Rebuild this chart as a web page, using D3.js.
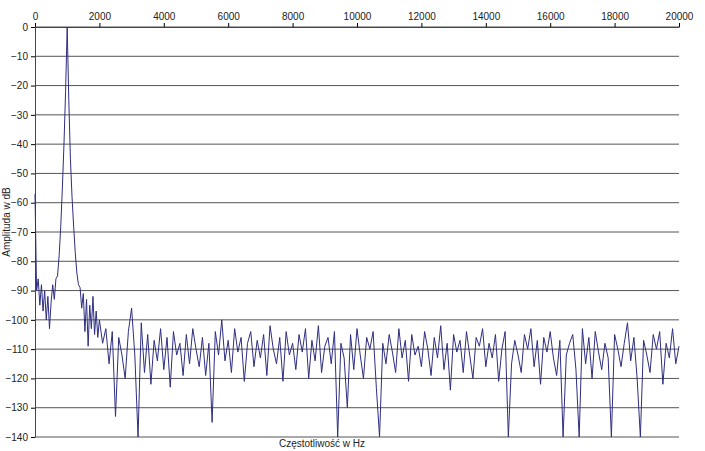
<!DOCTYPE html>
<html>
<head>
<meta charset="utf-8">
<style>
  body { margin: 0; background: white; font-family: "Liberation Sans", Arial, sans-serif; }
  .tick text { font-size: 10px; fill: #222; }
</style>
<script src="https://d3js.org/d3.v7.min.js"></script>
</head>
<body>
<svg id="chart" width="705" height="451"></svg>
<script>
  // Low-frequency part around the 1 kHz tone (50 Hz steps)
  const lowFreq = d3.range(0, 2001, 50);
  const lowAmp = [-57, -90, -86, -95, -88, -97, -90, -100, -92, -103, -94, -88, -93, -86, -85, -78,
    -68, -55, -40, -22, 0, -25, -45, -58, -68, -77, -84, -88, -89, -96, -91, -104, -93, -109,
    -95, -103, -92, -105, -97, -106, -100];
  // Noise floor 2100..20000 Hz (100 Hz steps)
  const noiseFreq = d3.range(2100, 20001, 100);
  const noiseAmp = [
    -108,-103,-115,-104,-133,-106,-112,-120,-104,-96,
    -112,-140,-101,-118,-105,-122,-107,-114,-103,-117,
    -106,-123,-104,-112,-108,-119,-105,-115,-103,-110,
    -116,-106,-119,-108,-135,-104,-112,-100,-114,-107,
    -118,-103,-111,-106,-121,-108,-104,-116,-107,-113,
    -105,-119,-102,-110,-115,-106,-121,-104,-112,-108,
    -117,-105,-111,-103,-120,-107,-114,-102,-118,-109,
    -106,-115,-104,-140,-108,-113,-130,-105,-117,-103,
    -112,-120,-106,-110,-104,-123,-140,-108,-115,-105,
    -111,-118,-103,-113,-107,-121,-105,-112,-109,-116,
    -104,-110,-119,-106,-113,-102,-117,-108,-124,-105,
    -111,-107,-118,-104,-112,-120,-106,-109,-103,-116,
    -108,-113,-105,-121,-110,-104,-140,-115,-107,-112,
    -118,-105,-110,-103,-116,-107,-122,-106,-111,-104,
    -113,-119,-107,-140,-112,-108,-105,-117,-140,-103,
    -115,-106,-120,-104,-111,-117,-108,-113,-140,-105,
    -110,-116,-108,-101,-114,-106,-120,-140,-107,-112,
    -118,-105,-110,-104,-122,-108,-113,-103,-115,-109];
  const xTicks = d3.range(0, 20001, 2000);
  const yTicks = d3.range(0, -141, -10);

  const data = lowFreq.map((f, i) => ({ f, a: lowAmp[i] }))
    .concat(noiseFreq.map((f, i) => ({ f, a: noiseAmp[i] })));

  const margin = { top: 27, left: 35 };
  const width = 644, height = 410;
  const svg = d3.select("#chart").append("g")
    .attr("transform", `translate(${margin.left},${margin.top})`);

  const x = d3.scaleLinear().domain([0, 20000]).range([0, width]);
  const y = d3.scaleLinear().domain([-140, 0]).range([height, 0]);

  // grid lines
  svg.append("g").selectAll("line").data(yTicks).enter().append("line")
    .attr("x1", 0).attr("x2", width)
    .attr("y1", d => y(d)).attr("y2", d => y(d))
    .attr("stroke", "#555").attr("stroke-width", 1);

  const xAxis = svg.append("g")
    .call(d3.axisTop(x).tickValues(xTicks).tickFormat(d3.format("d")).tickSize(4).tickSizeOuter(0));
  xAxis.select(".domain").attr("stroke", "#444");
  const yAxis = svg.append("g")
    .call(d3.axisLeft(y).tickValues(yTicks).tickSize(4).tickSizeOuter(0));
  yAxis.select(".domain").attr("stroke", "#444");

  svg.append("path").datum(data)
    .attr("fill", "none").attr("stroke", "#2e2e80").attr("stroke-width", 1)
    .attr("d", d3.line().x(d => x(d.f)).y(d => y(d.a)));

  svg.append("text").attr("x", width / 2 - 35).attr("y", height + 10)
    .attr("text-anchor", "middle").attr("font-size", 10).attr("fill", "#222")
    .text("Częstotliwość w Hz");
  svg.append("text").attr("transform", "rotate(-90)")
    .attr("x", -height / 2 + 10).attr("y", -25)
    .attr("text-anchor", "middle").attr("font-size", 10).attr("fill", "#222")
    .text("Amplituda w dB");
</script>
</body>
</html>
